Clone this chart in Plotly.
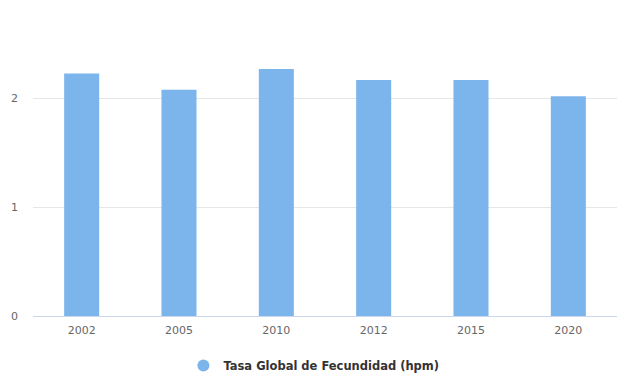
import plotly.graph_objects as go

years = ["2002", "2005", "2010", "2012", "2015", "2020"]
tgf = [2.23, 2.08, 2.27, 2.17, 2.17, 2.02]
series_name = "Tasa Global de Fecundidad (hpm)"
y_ticks = [0, 1, 2]

bar_color = "#7cb5ec"
font_family = "DejaVu Sans, Lucida Grande, sans-serif"

fig = go.Figure()
fig.add_trace(go.Bar(x=years, y=tgf, marker=dict(color=bar_color, line=dict(width=0)),
                     name=series_name, showlegend=False))
fig.add_trace(go.Scatter(x=[years[0]], y=[None], mode="markers",
                         marker=dict(symbol="circle", size=12, color=bar_color),
                         name=series_name, showlegend=True))

fig.update_layout(
    width=627, height=376,
    margin=dict(l=33, r=10, t=44, b=60, autoexpand=False),
    paper_bgcolor="white", plot_bgcolor="white",
    bargap=0.64,
    font=dict(family=font_family, size=11, color="#666666"),
    xaxis=dict(type="category", showgrid=False, showline=True, linecolor="#ccd6eb",
               linewidth=1, ticks="", tickfont=dict(size=11, color="#666666"),
               ticklabelstandoff=4, zeroline=False, fixedrange=True),
    yaxis=dict(range=[0, 2.5], tickvals=y_ticks, showgrid=True, gridcolor="#e6e6e6",
               gridwidth=1, zeroline=False, showline=False, ticks="",
               tickfont=dict(size=11, color="#666666"), ticklabelstandoff=14),
    legend=dict(orientation="h", x=0.481, xanchor="center", y=-0.182, yanchor="middle",
                font=dict(size=11.5, color="#333333", family=font_family, weight="bold"),
                itemsizing="constant"),
)

fig.write_html("out.html")
